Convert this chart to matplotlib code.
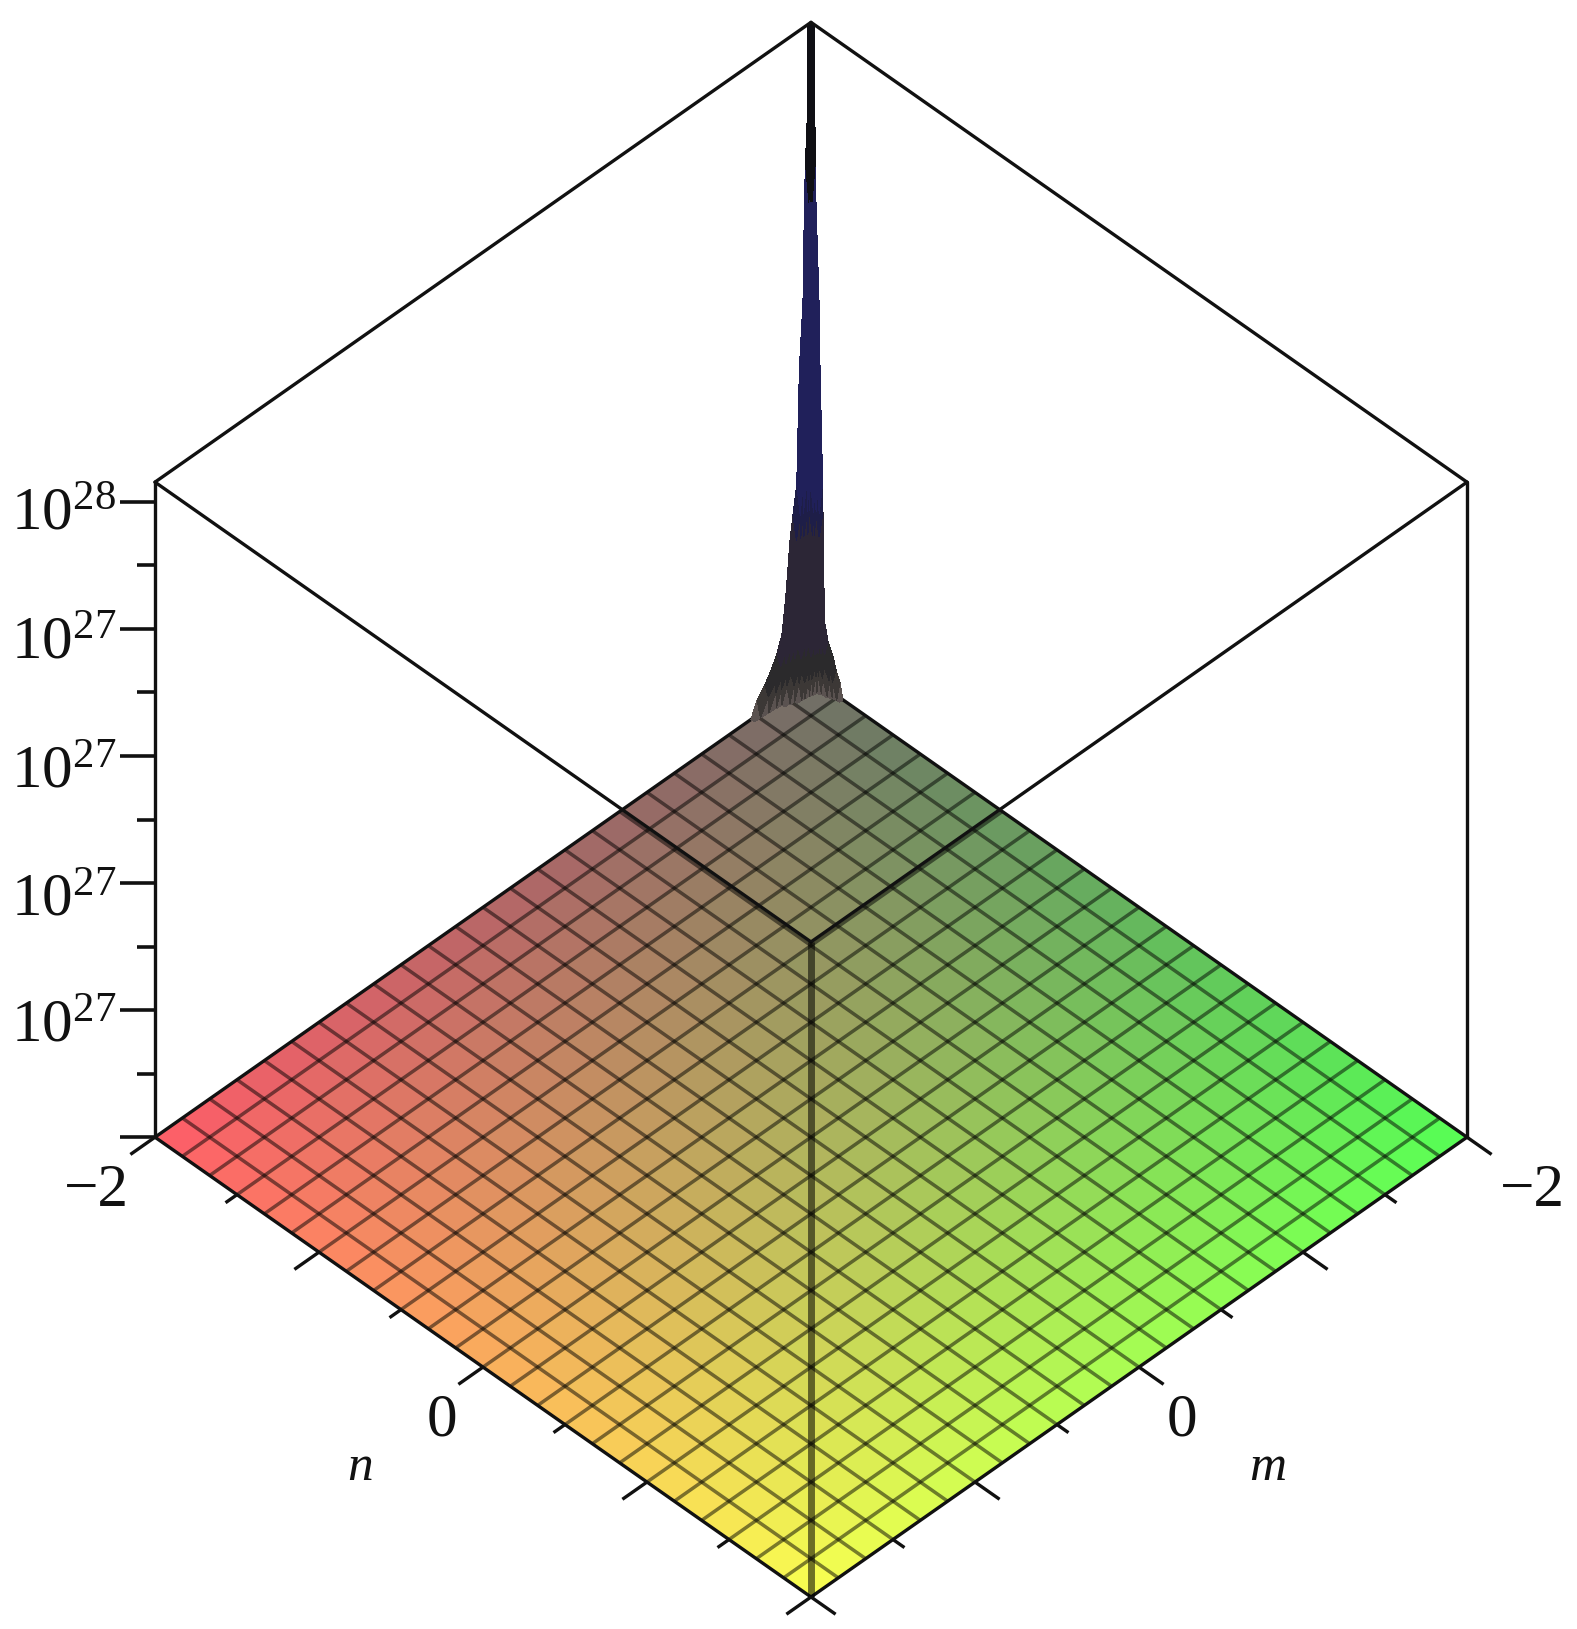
import numpy as np
import matplotlib
matplotlib.use("Agg")
import matplotlib.pyplot as plt
from mpl_toolkits.mplot3d import proj3d

W, H = 1577, 1629
plt.rcParams['font.family'] = ['Liberation Serif', 'DejaVu Serif']
plt.rcParams['mathtext.fontset'] = 'custom'
plt.rcParams['mathtext.rm'] = 'Liberation Serif'
plt.rcParams['mathtext.it'] = 'Liberation Serif:italic'

# ---- data -----------------------------------------------------------------
grid_cells = 24
m_range = [-2.0, 2.0]
n_range = [-2.0, 2.0]
z_range = [0.0, 1.031e28]
floor_level = 0.0

# the narrow peak at the corner (m, n) = (-2, -2)
spike_m = [-2.0, -1.979, -1.976, -1.966, -1.96, -1.951, -1.929, -1.913, -1.89, -1.872,
           -1.847, -1.823, -1.793, -1.762, -1.719, -1.671, -1.634]
spike_n = [-2.0, -1.979, -1.976, -1.973, -1.97, -1.951, -1.945, -1.929, -1.927, -1.924,
           -1.921, -1.915, -1.896, -1.866, -1.847, -1.823, -1.805]
spike_z = [10.31e27, 10.31e27, 8.79e27, 8.16e27, 7.57e27, 6.01e27, 4.99e27, 3.2e27, 2.75e27,
           2.39e27, 1.57e27, 1.0e27, 0.75e27, 0.58e27, 0.39e27, 0.24e27, 0.0]
# colour of the peak above each height
spike_color_floor = [7.5e27, 3.4e27, 2.4e27, 0.7e27, 0.3e27, 0.1e27, 0.0]
spike_color_value = ['#0f0f14', '#20205a', '#1e1e48', '#2c2636', '#2b2a2c', '#3c3836', '#5a5250']

ticks_major = [-2, -1, 0, 1, 2]
ticks_minor = [-1.5, -0.5, 0.5, 1.5]
z_ticks_major = [0, 2e27, 4e27, 6e27, 8e27, 1e28]
z_ticks_minor = [1e27, 3e27, 5e27, 7e27, 9e27]
z_tick_labels = ['$10^{27}$', '$10^{27}$', '$10^{27}$', '$10^{27}$', '$10^{28}$']
m_tick_labels = ['\u22122', '0']
n_tick_labels = ['\u22122', '0']

# colour of the surface at its four corners (m, n)
col_back = np.array([112, 108, 102]) / 255  # m=-2, n=-2
col_left = np.array([255, 92, 105]) / 255   # m= 2, n=-2
col_right = np.array([85, 255, 85]) / 255   # m=-2, n= 2
col_front = np.array([250, 255, 80]) / 255  # m= 2, n= 2

# ---- figure ---------------------------------------------------------------
fig = plt.figure(figsize=(W / 100, H / 100), dpi=100)
ax = fig.add_axes([-0.2, -0.2, 1.4, 1.4], projection='3d', computed_zorder=False)
ax.set_proj_type('ortho')
ax.view_init(elev=44.5, azim=45)
ax.set_xlim(*m_range, view_margin=0)
ax.set_ylim(*n_range, view_margin=0)
ax.set_zlim(*z_range, view_margin=0)
ax.set_axis_off()
ax.patch.set_alpha(0)

m0, m1 = m_range
n0, n1 = n_range
zt = z_range[1]

# floor surface
mg = np.linspace(m0, m1, grid_cells + 1)
ng = np.linspace(n0, n1, grid_cells + 1)
M, N = np.meshgrid(mg, ng, indexing='ij')
Z = np.full_like(M, floor_level)
u = ((mg[:-1] + mg[1:]) / 2 - m0) / (m1 - m0)
v = ((ng[:-1] + ng[1:]) / 2 - n0) / (n1 - n0)
U, V = np.meshgrid(u, v, indexing='ij')
fc = ((1 - U) * (1 - V))[..., None] * col_back + (U * (1 - V))[..., None] * col_left \
    + ((1 - U) * V)[..., None] * col_right + (U * V)[..., None] * col_front
ax.plot_surface(M, N, Z, facecolors=fc, rstride=1, cstride=1, shade=False,
                linewidth=0, antialiased=False, zorder=1)

grid_style = dict(color='#000000', alpha=0.5, lw=2.5, zorder=2, solid_capstyle='butt')
for a in mg[1:-1]:
    ax.plot([a, a], [n0, n1], [floor_level] * 2, **grid_style)
for b in ng[1:-1]:
    ax.plot([m0, m1], [b, b], [floor_level] * 2, **grid_style)

# spike
sm, sn = np.meshgrid(spike_m, spike_n, indexing='ij')
k = len(spike_z)
zz = np.zeros((k, k))
for i in range(k):
    for j in range(k):
        zz[i, j] = spike_z[min(i + j, k - 1)]
sfc = np.zeros((k - 1, k - 1, 4))
for i in range(k - 1):
    for j in range(k - 1):
        if i + j < k - 1:
            h = zz[i:i + 2, j:j + 2].mean()
            for floor_h, c in zip(spike_color_floor, spike_color_value):
                if h >= floor_h:
                    sfc[i, j] = matplotlib.colors.to_rgba(c)
                    break
ax.plot_surface(sm, sn, zz, facecolors=sfc, rstride=1, cstride=1, shade=False,
                linewidth=0, antialiased=False, zorder=3)

# box
box = dict(color='#111111', lw=2.4, zorder=4, solid_capstyle='round')
floor_edges = [((m0, n0), (m1, n0)), ((m0, n0), (m0, n1)), ((m1, n0), (m1, n1)), ((m0, n1), (m1, n1))]
for (a, b), (c, d) in floor_edges:
    ax.plot([a, c], [b, d], [0, 0], **{**box, 'zorder': 2.5})
    ax.plot([a, c], [b, d], [zt, zt], **box)
ax.plot([m1, m1], [n0, n0], [0, zt], **box)
ax.plot([m0, m0], [n1, n1], [0, zt], **box)
ax.plot([m1, m1], [n1, n1], [0, zt], color='#000000', alpha=0.55, lw=5.0, zorder=4,
        solid_capstyle='butt')

# ticks
tick = dict(color='#111111', zorder=4, solid_capstyle='butt')
for t in ticks_major:
    ax.plot([m1, m1 + 0.15], [t, t], [0, 0], lw=2.4, **tick)
    ax.plot([t, t], [n1, n1 + 0.15], [0, 0], lw=2.4, **tick)
for t in ticks_minor:
    ax.plot([m1, m1 + 0.07], [t, t], [0, 0], lw=2.4, **tick)
    ax.plot([t, t], [n1, n1 + 0.07], [0, 0], lw=2.4, **tick)
for t in z_ticks_major:
    ax.plot([m1, m1 + 0.107], [n0, n0 - 0.107], [t, t], lw=2.6, **tick)
for t in z_ticks_minor:
    ax.plot([m1, m1 + 0.055], [n0, n0 - 0.055], [t, t], lw=2.6, **tick)


# fit the box to its place in the picture
def px(x, y, z):
    a, b, _ = proj3d.proj_transform(x, y, z, ax.get_proj())
    return ax.transData.transform((a, b))


zoom = 1.0
for _ in range(3):
    ax.set_box_aspect((1, 1, 0.99), zoom=zoom)
    fig.canvas.draw()
    span = px(m0, n1, 0)[0] - px(m1, n0, 0)[0]
    zoom *= 1312 / span
ax.set_box_aspect((1, 1, 0.99), zoom=zoom)
fig.canvas.draw()
front = px(m1, n1, 0)
shift = (811 - front[0], (H - 1597) - front[1])
ax.set_position([-0.2 + shift[0] / W, -0.2 + shift[1] / H, 1.4, 1.4])


# text
def label(x, y, s, **kw):
    fig.text(x / W, 1 - y / H, s, **kw)


num = dict(fontsize=44, color='#111111')
for y, s in zip([1042, 915, 787, 658, 530], z_tick_labels):
    label(116, y, s, ha='right', va='baseline', **num)
label(96, 1191, n_tick_labels[0], ha='center', va='center', **num)
label(442, 1421, n_tick_labels[1], ha='center', va='center', **num)
label(1532, 1191, m_tick_labels[0], ha='center', va='center', **num)
label(1182, 1421, m_tick_labels[1], ha='center', va='center', **num)
label(360, 1480, 'n', ha='center', va='baseline', fontsize=37, style='italic', color='#111111')
label(1268, 1480, 'm', ha='center', va='baseline', fontsize=37, style='italic', color='#111111')

fig.savefig('out.png', dpi=100, facecolor='white')
